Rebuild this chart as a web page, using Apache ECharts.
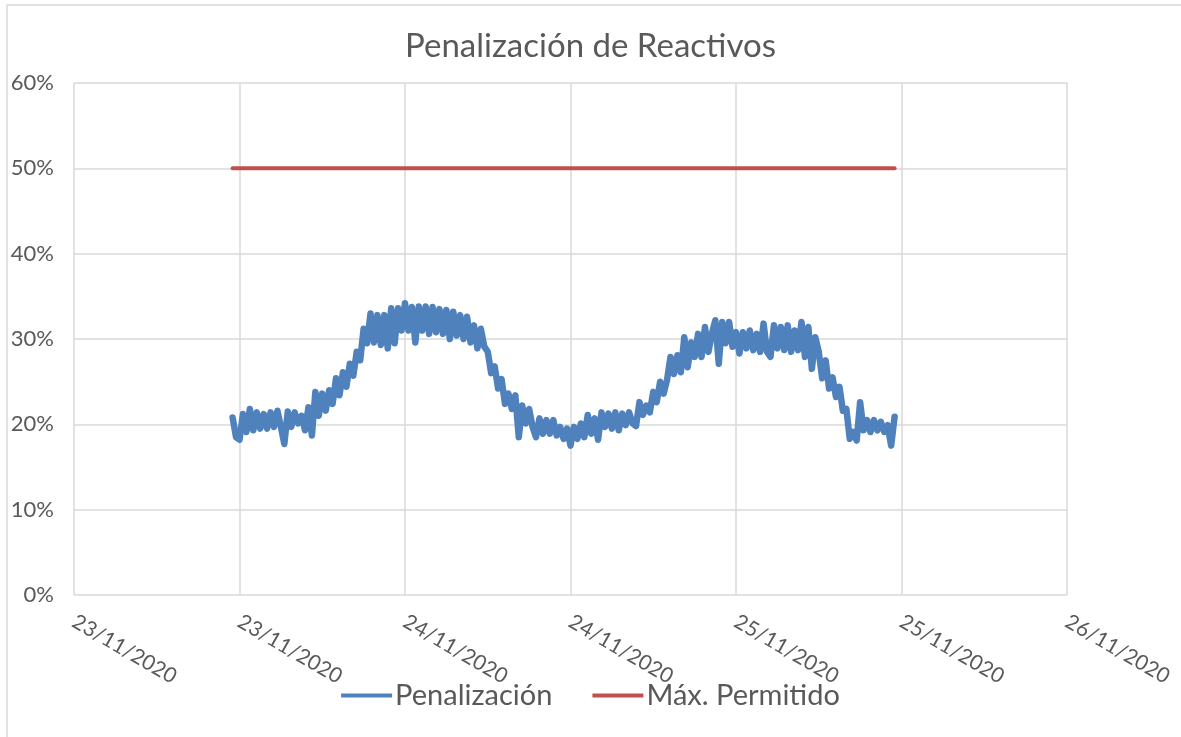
<!DOCTYPE html>
<html>
<head>
<meta charset="utf-8">
<script src="https://cdn.jsdelivr.net/npm/echarts@6/dist/echarts.min.js"></script>
<style>
  html, body { margin: 0; padding: 0; background: #fff; }
  #main { width: 1181px; height: 737px; }
</style>
</head>
<body>
<div id="main"></div>
<script>
// hours counted from 23/11/2020 00:00
const xTickLabels = ["23/11/2020", "23/11/2020", "24/11/2020", "24/11/2020", "25/11/2020", "25/11/2020", "26/11/2020"];
const yTicks = [0, 10, 20, 30, 40, 50, 60];
const startHour = 11.5;
const stepHours = 0.25;
const endHour = 59.5;
const maxPermitido = 50;

// Penalización (%) every 15 min
const penalizacion = [
  20.8, 18.5, // 11:30
  18.2, 21.2, 19.1, 21.8, // 12h
  19.3, 21.4, 19.5, 21.2,
  19.5, 21.4, 19.7, 21.6,
  19.7, 17.7, 21.5, 19.7, // 15h
  21.4, 20.1, 21.0, 19.3,
  22.0, 18.7, 23.8, 21.0,
  23.6, 21.6, 24.0, 22.4, // 18h
  25.4, 23.4, 26.1, 24.4,
  27.1, 25.7, 28.5, 27.5,
  31.2, 29.5, 33.0, 29.6, // 21h
  32.8, 29.3, 32.8, 28.9,
  33.6, 29.5, 33.6, 31.0,
  34.2, 31.0, 33.75, 29.6, // 24/11 00h
  33.8, 31.0, 33.8, 30.6,
  33.75, 30.8, 33.5, 30.6,
  33.4, 30.0, 33.2, 30.4, // 03h
  32.8, 30.0, 32.6, 29.6,
  31.6, 28.9, 31.2, 29.1,
  28.5, 26.0, 26.8, 24.2, // 06h
  25.3, 22.4, 23.6, 21.8,
  23.4, 18.5, 22.2, 20.1,
  21.8, 19.7, 18.5, 20.7, // 09h
  18.9, 20.5, 18.9, 20.5,
  18.7, 19.7, 18.3, 19.5,
  17.5, 19.7, 18.3, 20.1, // 12h
  18.5, 21.1, 18.9, 20.7,
  18.2, 21.4, 19.7, 21.25,
  19.5, 21.4, 19.3, 21.25, // 15h
  19.9, 21.4, 20.1, 19.8,
  22.6, 21.1, 22.2, 21.4,
  23.8, 22.6, 25.0, 23.6, // 18h
  25.2, 27.9, 25.9, 28.1,
  26.1, 30.2, 26.7, 29.6,
  27.9, 30.6, 27.9, 31.4, // 21h
  28.5, 30.6, 32.2, 27.1,
  32.0, 29.5, 32.0, 29.1,
  30.8, 28.3, 30.8, 28.9, // 25/11 00h
  31.0, 28.7, 30.6, 28.5,
  31.8, 28.5, 27.9, 31.6,
  28.9, 31.4, 28.7, 31.6, // 03h
  28.5, 31.0, 28.7, 32.0,
  27.9, 31.4, 26.5, 30.2,
  28.5, 25.4, 27.5, 24.2, // 06h
  25.5, 23.2, 24.4, 21.6,
  21.8, 18.3, 19.1, 18.1,
  22.6, 19.3, 20.5, 19.1, // 09h
  20.5, 19.3, 20.3, 19.1,
  19.9, 17.5, 20.9
];

const chartDom = document.getElementById("main");
const myChart = echarts.init(chartDom);

const textColor = "#595959";
const gridColor = "#d9d9d9";
const font = "Lato";

const option = {
  animation: false,
  backgroundColor: "#fff",
  textStyle: { fontFamily: font },
  graphic: [
    {
      type: "rect",
      shape: { x: 7, y: 5, width: 1200, height: 800 },
      style: { fill: "none", stroke: gridColor, lineWidth: 1.5 },
      silent: true
    }
  ],
  title: {
    text: "Penalización de Reactivos",
    left: "center",
    top: 25,
    textStyle: { color: textColor, fontSize: 33, fontWeight: "normal", fontFamily: font }
  },
  legend: {
    bottom: 22,
    left: "center",
    icon: "rect",
    itemWidth: 51,
    itemHeight: 4,
    itemGap: 40,
    textStyle: { color: textColor, fontSize: 29, fontFamily: font, padding: [0, 0, 0, -2] },
    data: ["Penalización", "Máx. Permitido"]
  },
  grid: { left: 74, right: 114, top: 83, bottom: 142 },
  xAxis: {
    type: "value",
    min: 0,
    max: 72,
    interval: 12,
    axisLine: { show: false },
    axisTick: { show: false },
    splitLine: { show: true, lineStyle: { color: gridColor, width: 1.5 } },
    axisLabel: {
      rotate: -30,
      margin: 25,
      color: textColor,
      fontSize: 21,
      fontFamily: font,
      formatter: (v) => xTickLabels[Math.round(v / 12)]
    }
  },
  yAxis: {
    type: "value",
    min: yTicks[0],
    max: yTicks[yTicks.length - 1],
    interval: 10,
    axisLine: { show: false },
    axisTick: { show: false },
    splitLine: { show: true, lineStyle: { color: gridColor, width: 1.5 } },
    axisLabel: {
      margin: 20,
      color: textColor,
      fontSize: 22,
      fontFamily: font,
      formatter: (v) => v + "%"
    }
  },
  series: [
    {
      name: "Penalización",
      type: "line",
      symbol: "none",
      color: "#4F81BD",
      lineStyle: { width: 6.5, color: "#4F81BD", cap: "round", join: "round" },
      data: penalizacion.map((v, i) => [startHour + i * stepHours, v])
    },
    {
      name: "Máx. Permitido",
      type: "line",
      symbol: "none",
      color: "#C0504D",
      lineStyle: { width: 4, color: "#C0504D", cap: "round" },
      data: [[startHour, maxPermitido], [endHour, maxPermitido]]
    }
  ]
};

option && myChart.setOption(option);
</script>
</body>
</html>
